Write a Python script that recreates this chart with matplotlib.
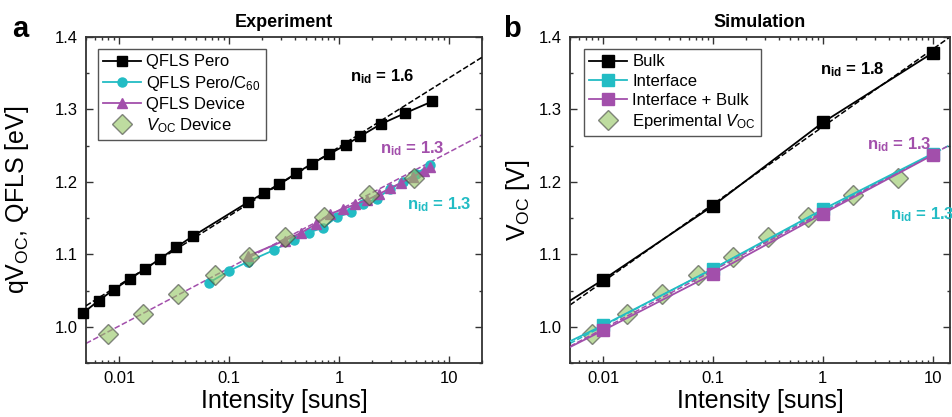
import matplotlib
matplotlib.use('Agg')
import matplotlib.pyplot as plt
from matplotlib.ticker import LogLocator, MultipleLocator, NullFormatter

plt.rcParams['font.family'] = ['Liberation Sans', 'DejaVu Sans']
plt.rcParams['mathtext.fontset'] = 'custom'
plt.rcParams['mathtext.rm'] = 'Liberation Sans'
plt.rcParams['mathtext.it'] = 'Liberation Sans:italic'
plt.rcParams['mathtext.bf'] = 'Liberation Sans:bold'

# ---- panel a : experiment ----
pero_x = [0.0047, 0.0065, 0.0089, 0.0125, 0.0173, 0.0237, 0.0332, 0.0468,
          0.149, 0.21, 0.285, 0.41, 0.564, 0.81, 1.15, 1.56, 2.42, 4.01, 7.03]
pero_y = [1.019, 1.036, 1.051, 1.066, 1.080, 1.094, 1.110, 1.125,
          1.172, 1.185, 1.197, 1.212, 1.225, 1.238, 1.251, 1.263, 1.280, 1.295, 1.311]

c60_x = [0.066, 0.10, 0.149, 0.257, 0.392, 0.532, 0.72, 0.95, 1.28, 1.67,
         2.2, 2.92, 3.8, 5.0, 6.8]
c60_y = [1.061, 1.077, 1.090, 1.106, 1.120, 1.130, 1.137, 1.151, 1.158, 1.169,
         1.177, 1.190, 1.200, 1.211, 1.224]

dev_x = [0.15, 0.32, 0.456, 0.62, 0.83, 1.08, 1.4, 1.8, 2.3, 2.9, 3.7, 4.7, 5.9, 6.8]
dev_y = [1.098, 1.119, 1.130, 1.142, 1.156, 1.162, 1.169, 1.175, 1.183, 1.191,
         1.199, 1.207, 1.215, 1.220]

voc_x = [0.0080, 0.0164, 0.0341, 0.0738, 0.152, 0.32, 0.736, 1.88, 4.85]
voc_y = [0.990, 1.018, 1.045, 1.071, 1.097, 1.124, 1.151, 1.182, 1.205]

fit_a_x = [0.005, 20]
fit_a_pero = [1.029, 1.372]
fit_a_dev = [0.977, 1.265]

# ---- panel b : simulation ----
sim_x = [0.005, 0.01, 0.1, 1, 10]
bulk_y = [1.036, 1.065, 1.167, 1.282, 1.378]
intf_y = [0.980, 1.002, 1.080, 1.162, 1.239]
both_y = [0.972, 0.995, 1.073, 1.156, 1.237]

fit_b_x = [0.005, 14.4]
fit_b_bulk = [1.030, 1.400]
fit_b_intf = [0.977, 1.251]
fit_b_both = [0.973, 1.251]

black = '#000000'
cyan = '#22bcc4'
purple = '#a24fab'
green = '#93c561'
edge = '#404040'

fig = plt.figure(figsize=(9.53, 4.17), dpi=100)
ax_a = fig.add_axes([86/953, 54/417, 396/953, 326/417])
ax_b = fig.add_axes([570/953, 54/417, 380/953, 326/417])


def style(ax, xmax):
    ax.set_xscale('log')
    ax.set_xlim(0.005, xmax)
    ax.set_ylim(0.95, 1.4)
    ax.set_xticks([0.01, 0.1, 1, 10])
    ax.set_xticklabels(['0.01', '0.1', '1', '10'])
    ax.xaxis.set_minor_locator(LogLocator(base=10, subs=range(2, 10), numticks=20))
    ax.xaxis.set_minor_formatter(NullFormatter())
    ax.set_yticks([1.0, 1.1, 1.2, 1.3, 1.4])
    ax.set_yticklabels(['1.0', '1.1', '1.2', '1.3', '1.4'])
    ax.yaxis.set_minor_locator(MultipleLocator(0.05))
    ax.tick_params(which='both', direction='in', top=True, right=True,
                   labelsize=12, color='#333333', width=1.0)
    ax.tick_params(which='major', length=5, pad=6)
    ax.tick_params(which='minor', length=2.5)
    for s in ax.spines.values():
        s.set_color('#333333')
        s.set_linewidth(1.3)
    ax.set_xlabel('Intensity [suns]', fontsize=18, labelpad=2)


style(ax_a, 20)
style(ax_b, 14.4)

# panel a
ax_a.plot(fit_a_x, fit_a_pero, '--', color=black, lw=1.1, zorder=4)
ax_a.plot(fit_a_x, fit_a_dev, '--', color=purple, lw=1.1, zorder=2)
ax_a.plot(pero_x, pero_y, '-s', color=black, ms=6.5, lw=1.3, label='QFLS Pero',
          clip_on=False, zorder=3)
ax_a.plot(c60_x, c60_y, '-o', color=cyan, ms=6.5, lw=1.3, label='QFLS Pero/C$_{60}$', zorder=3)
ax_a.plot(dev_x, dev_y, '-^', color=purple, ms=7, lw=1.3, label='QFLS Device', zorder=3)
ax_a.plot(voc_x, voc_y, 'D', ms=10, mfc=green, mec=edge, mew=1.0, alpha=0.6,
          label='$V_\\mathrm{OC}$ Device', zorder=5)

ax_a.legend(loc='upper left', bbox_to_anchor=(0.03, 0.962), fontsize=12,
            frameon=True, fancybox=False, edgecolor='#555555', framealpha=1,
            handlelength=2.3, handletextpad=0.3, labelspacing=0.25,
            borderpad=0.3, borderaxespad=0)
ax_a.set_title('Experiment', fontsize=13, fontweight='bold', pad=7)
ax_a.set_ylabel('qV$_\\mathrm{OC}$, QFLS [eV]', fontsize=18)
ax_a.yaxis.set_label_coords(-0.14, 0.5)

ax_a.text(0.667, 0.877, '$\\mathbf{n_{id}}$ = 1.6', transform=ax_a.transAxes,
          fontsize=12, fontweight='bold', color=black, va='center', ha='left')
ax_a.text(0.742, 0.656, '$\\mathbf{n_{id}}$ = 1.3', transform=ax_a.transAxes,
          fontsize=12, fontweight='bold', color=purple, va='center', ha='left')
ax_a.text(0.811, 0.485, '$\\mathbf{n_{id}}$ = 1.3', transform=ax_a.transAxes,
          fontsize=12, fontweight='bold', color=cyan, va='center', ha='left')

# panel b
ax_b.plot(voc_x, voc_y, 'D', ms=10, mfc=green, mec=edge, mew=1.0, alpha=0.6,
          label='Eperimental $V_\\mathrm{OC}$', zorder=1)
ax_b.plot(fit_b_x, fit_b_bulk, '--', color=black, lw=1.1, zorder=2)
ax_b.plot(fit_b_x, fit_b_intf, '--', color=cyan, lw=1.1, zorder=2)
ax_b.plot(fit_b_x, fit_b_both, '--', color=purple, lw=1.1, zorder=2)
ax_b.plot(sim_x, bulk_y, '-s', color=black, ms=8, lw=1.3, markevery=[1, 2, 3, 4],
          label='Bulk', zorder=3)
ax_b.plot(sim_x, intf_y, '-s', color=cyan, ms=8, lw=1.3, markevery=[1, 2, 3, 4],
          label='Interface', zorder=3)
ax_b.plot(sim_x, both_y, '-s', color=purple, ms=8, lw=1.3, markevery=[1, 2, 3, 4],
          label='Interface + Bulk', zorder=3)

h, l = ax_b.get_legend_handles_labels()
order = [1, 2, 3, 0]
ax_b.legend([h[i] for i in order], [l[i] for i in order], loc='upper left',
            bbox_to_anchor=(0.037, 0.962), fontsize=12,
            frameon=True, fancybox=False, edgecolor='#555555', framealpha=1,
            handlelength=2.3, handletextpad=0.3, labelspacing=0.25,
            borderpad=0.3, borderaxespad=0)
ax_b.set_title('Simulation', fontsize=13, fontweight='bold', pad=7)
ax_b.set_ylabel('V$_\\mathrm{OC}$ [V]', fontsize=18)
ax_b.yaxis.set_label_coords(-0.10, 0.5)

ax_b.text(0.658, 0.899, '$\\mathbf{n_{id}}$ = 1.8', transform=ax_b.transAxes,
          fontsize=12, fontweight='bold', color=black, va='center', ha='left')
ax_b.text(0.782, 0.669, '$\\mathbf{n_{id}}$ = 1.3', transform=ax_b.transAxes,
          fontsize=12, fontweight='bold', color=purple, va='center', ha='left')
ax_b.text(0.843, 0.454, '$\\mathbf{n_{id}}$ = 1.3', transform=ax_b.transAxes,
          fontsize=12, fontweight='bold', color=cyan, va='center', ha='left')

fig.text(12/953, 1 - 37/417, 'a', fontsize=21, fontweight='bold', va='baseline')
fig.text(503/953, 1 - 37/417, 'b', fontsize=21, fontweight='bold', va='baseline')

fig.savefig('out.png', dpi=100)
